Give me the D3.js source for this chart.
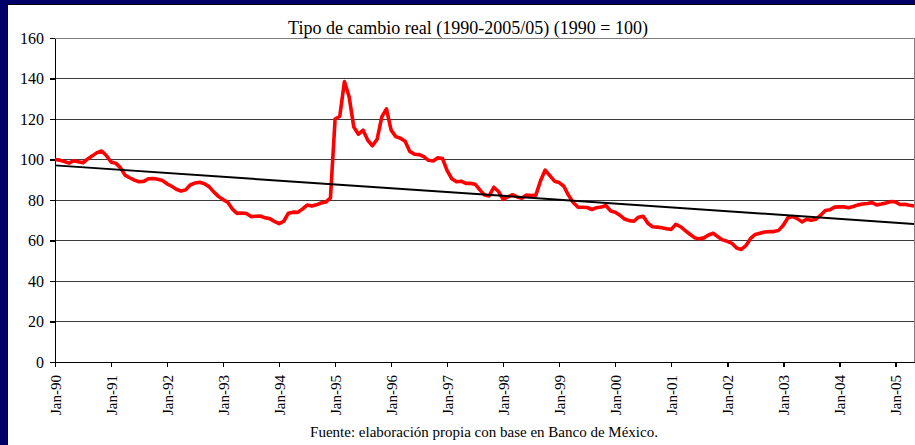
<!DOCTYPE html>
<meta charset="utf-8">
<style>

body {
  margin: 0;
  background: #00006a;
}

text {
  font-family: "Liberation Serif", "Times New Roman", serif;
  fill: #000;
}

.grid line {
  stroke: #3a3a3a;
  shape-rendering: crispEdges;
}

.axis path, .axis line {
  fill: none;
  stroke: #000;
  stroke-width: 1.5;
  shape-rendering: crispEdges;
}

</style>
<body>
<script src="https://d3js.org/d3.v7.min.js"></script>
<script>

// real exchange rate index, monthly, Jan 1990 .. May 2005 (1990 = 100)
const rer1990 = [100, 99.7, 99, 98.2, 99.4, 98.9, 98.4, 100.3, 101.8, 103.4, 104.2, 102];
const rer1991 = [98.8, 98.2, 96, 92.3, 91, 89.8, 89, 89.2, 90.5, 90.6, 90.2, 89.6];
const rer1992 = [88, 86.8, 85.3, 84.4, 85, 87.5, 88.4, 88.8, 88, 86.6, 84, 81.8];
const rer1993 = [80.2, 78.9, 75.5, 73.4, 73.6, 73.3, 71.8, 72, 72.1, 71.2, 70.8, 69.4];
const rer1994 = [68.3, 69.5, 73.5, 74, 73.9, 75.5, 77.5, 77, 77.6, 78.5, 79, 81];
const rer1995 = [120, 121.4, 138.5, 131, 116, 112.5, 114.5, 109.5, 106.8, 110, 121, 125];
const rer1996 = [114.5, 111.3, 110.5, 109, 104, 102.6, 102.4, 101.4, 99.6, 99.3, 100.8, 100.5];
const rer1997 = [94.5, 90.5, 89, 89.3, 88.2, 88.2, 87.8, 85, 82.5, 82, 86.3, 84.2];
const rer1998 = [80.3, 81.5, 82.6, 81.5, 80.9, 82.5, 82.2, 82.4, 89.5, 94.8, 92, 89.3];
const rer1999 = [88.6, 86.8, 82.3, 78.8, 76.5, 76.4, 76.3, 75.3, 76.2, 76.5, 77.3, 74.6];
const rer2000 = [74, 72.5, 70.6, 69.8, 69.5, 71.5, 72, 68.5, 66.8, 66.6, 66.3, 65.8];
const rer2001 = [65.5, 68, 66.8, 64.9, 63.1, 61.4, 60.8, 61.3, 62.7, 63.6, 61.8, 60.3];
const rer2002 = [59.6, 58.6, 56.3, 55.6, 57.5, 61, 63, 63.6, 64.2, 64.4, 64.4, 65];
const rer2003 = [67.5, 71.2, 71.8, 70.8, 69.2, 70.5, 70, 70.5, 72.5, 74.8, 75.2, 76.5];
const rer2004 = [76.6, 76.6, 76.2, 76.8, 77.6, 78, 78.3, 78.7, 77.6, 78, 78.5, 79.2];
const rer2005 = [79.1, 77.8, 77.9, 77.4, 77];

const rer = [].concat(rer1990, rer1991, rer1992, rer1993, rer1994, rer1995, rer1996,
  rer1997, rer1998, rer1999, rer2000, rer2001, rer2002, rer2003, rer2004, rer2005);

// linear trend, read at first and last month
const trendMonths = [0, 184];
const trendValues = [97.1, 68.2];

const xTickLabels = ["Jan-90", "Jan-91", "Jan-92", "Jan-93", "Jan-94", "Jan-95", "Jan-96",
  "Jan-97", "Jan-98", "Jan-99", "Jan-00", "Jan-01", "Jan-02", "Jan-03", "Jan-04", "Jan-05"];
const yTicks = [0, 20, 40, 60, 80, 100, 120, 140, 160];

const title = "Tipo de cambio real (1990-2005/05) (1990 = 100)";
const source = "Fuente: elaboración propia con base en Banco de México.";

const width = 915, height = 445;
const plotL = 55, plotR = 914, plotT = 38, plotB = 362;

const x = d3.scaleLinear()
    .domain([0, rer.length - 1])
    .range([plotL, plotR]);

const y = d3.scaleLinear()
    .domain([0, 160])
    .range([plotB, plotT]);

const svg = d3.select("body").append("svg")
    .attr("width", width)
    .attr("height", height)
    .style("display", "block");

// white panel
svg.append("rect")
    .attr("x", 7.5)
    .attr("y", 4.5)
    .attr("width", width)
    .attr("height", height)
    .attr("fill", "#fff")
    .attr("stroke", "#000");

// grid
svg.append("g")
    .attr("class", "grid")
  .selectAll("line")
  .data(yTicks.filter(d => d > 0 && d < 160))
  .join("line")
    .attr("x1", plotL)
    .attr("x2", plotR)
    .attr("y1", d => y(d))
    .attr("y2", d => y(d));

// plot frame top / right
svg.append("path")
    .attr("d", `M${plotL},${plotT}H${plotR}V${plotB}`)
    .attr("fill", "none")
    .attr("stroke", "#808080")
    .attr("shape-rendering", "crispEdges");

const yAxis = svg.append("g")
    .attr("class", "axis")
    .attr("transform", `translate(${plotL},0)`)
    .call(d3.axisLeft(y).tickValues(yTicks).tickSize(5).tickSizeOuter(0).tickPadding(6));

yAxis.selectAll("text")
    .style("font-size", "16px")
    .style("font-family", '"Liberation Serif", serif');

const xAxis = svg.append("g")
    .attr("class", "axis")
    .attr("transform", `translate(0,${plotB})`)
    .call(d3.axisBottom(x)
      .tickValues(xTickLabels.map((d, i) => i * 12))
      .tickFormat((d, i) => xTickLabels[i])
      .tickSize(5)
      .tickSizeOuter(0));

xAxis.selectAll("text")
    .attr("transform", "rotate(-90)")
    .attr("x", -13)
    .attr("y", 0)
    .attr("dy", "0.35em")
    .style("text-anchor", "end")
    .style("font-size", "15px")
    .style("font-family", '"Liberation Serif", serif');

// series
svg.append("path")
    .datum(rer)
    .attr("fill", "none")
    .attr("stroke", "#ff0000")
    .attr("stroke-width", 3.6)
    .attr("stroke-linejoin", "round")
    .attr("d", d3.line()
      .x((d, i) => x(i))
      .y(d => y(d)));

// trend
svg.append("path")
    .datum(trendMonths.map((m, i) => [m, trendValues[i]]))
    .attr("fill", "none")
    .attr("stroke", "#000")
    .attr("stroke-width", 2)
    .attr("d", d3.line()
      .x(d => x(d[0]))
      .y(d => y(d[1])));

svg.append("text")
    .attr("x", 468)
    .attr("y", 34)
    .attr("text-anchor", "middle")
    .style("font-size", "18px")
    .text(title);

svg.append("text")
    .attr("x", 484)
    .attr("y", 437)
    .attr("text-anchor", "middle")
    .style("font-size", "15px")
    .text(source);

</script>
